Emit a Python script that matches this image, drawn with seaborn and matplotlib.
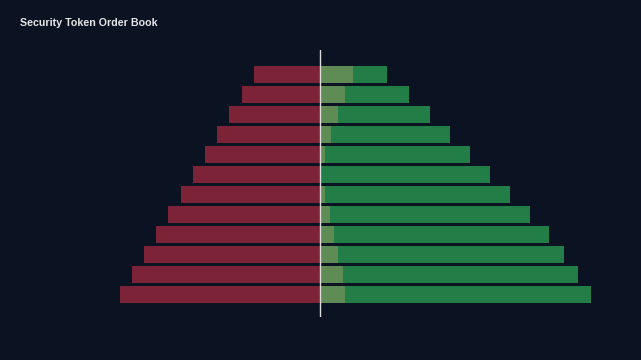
import numpy as np
import pandas as pd
import matplotlib
matplotlib.use("Agg")
import matplotlib.pyplot as plt
import seaborn as sns

# order book levels, top (closest) to bottom
levels = [f"L{i}" for i in range(1, 13)]
ask_size = [66, 78, 91, 103, 115, 127, 139.5, 152, 164, 176, 188, 200]
bid_size = [67, 88.7, 109.7, 130.3, 150.3, 170.3, 190, 209.7, 229, 244.3, 257.7, 271.3]
own_size = [33.3, 25, 17.7, 11.3, 5.3, 0.5, 4.6, 10, 14.3, 18.3, 22.6, 25.3]

BG = "#0b1222"
RED = "#7c2337"
GREEN = "#237d46"
LIGHT = "#5f8c55"

sns.set_theme(style="dark")
plt.rcParams["font.family"] = ["Liberation Sans", "DejaVu Sans"]

df = pd.DataFrame({
    "level": levels,
    "ask": -np.array(ask_size),
    "bid": bid_size,
    "own": own_size,
})

fig = plt.figure(figsize=(6.41, 3.6), dpi=100, facecolor=BG)
ax = fig.add_axes([20 / 641, 1 - 317 / 360, 600 / 641, 267 / 360])
ax.set_facecolor(BG)

kw = dict(y="level", orient="h", width=0.85, saturation=1, linewidth=0, ax=ax)
sns.barplot(data=df, x="ask", color=RED, **kw)
sns.barplot(data=df, x="bid", color=GREEN, **kw)
sns.barplot(data=df, x="own", color=LIGHT, **kw)

ax.axvline(0, color="#dcdcdc", lw=1)
ax.set_xlim(-300, 300)
ax.set_ylim(11 + 1.1, -1.22)

ax.set_xlabel("")
ax.set_ylabel("")
ax.set_xticks([])
ax.set_yticks([])
ax.grid(False)
for s in ax.spines.values():
    s.set_visible(False)

fig.text(20 / 641, 1 - 23 / 360, "Security Token Order Book", color="#e6e6e6",
         fontsize=7.7, fontweight="bold", va="center", ha="left")

fig.savefig("out.png", dpi=100, facecolor=BG)
